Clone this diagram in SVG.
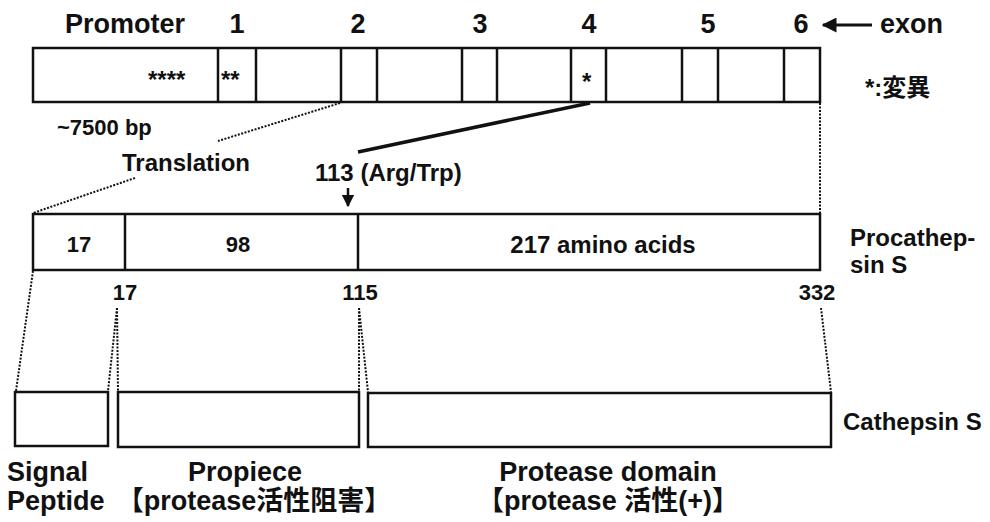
<svg xmlns="http://www.w3.org/2000/svg" width="990" height="522" viewBox="0 0 990 522">
<defs>
<style>
text{font-family:"Liberation Sans","Noto Sans CJK JP",Arial,sans-serif;font-weight:bold;fill:#111}
.box{fill:#fff;stroke:#111;stroke-width:2.5}
.div{stroke:#111;stroke-width:2.5}
.dot{stroke:#111;stroke-width:2;stroke-dasharray:2 1.5;fill:none}
.l{font-size:27px}
.m{font-size:24px}
.s{font-size:22px}
.a{font-size:24px}
</style>
<marker id="ah" viewBox="0 0 10 10" refX="9" refY="5" markerWidth="5" markerHeight="5" orient="auto"><path d="M0,0 L10,5 L0,10 z" fill="#111"/></marker>
</defs>
<rect width="990" height="522" fill="#fff"/>

<g id="gene">
<rect class="box" x="33" y="48" width="787" height="54"/>
<path class="div" d="M218,48V102M256,48V102M341,48V102M377,48V102M462,48V102M497,48V102M571,48V102M606,48V102M682,48V102M718,48V102M784,48V102"/>
<text class="a" x="148" y="88">****</text>
<text class="a" x="221" y="88">**</text>
<text class="a" x="582" y="90">*</text>
</g>

<g id="gene-labels">
<text class="l" x="65" y="33">Promoter</text>
<text class="l" x="237" y="33" text-anchor="middle">1</text>
<text class="l" x="358" y="33" text-anchor="middle">2</text>
<text class="l" x="480" y="33" text-anchor="middle">3</text>
<text class="l" x="589" y="33" text-anchor="middle">4</text>
<text class="l" x="708" y="33" text-anchor="middle">5</text>
<text class="l" x="801" y="33" text-anchor="middle">6</text>
<text class="l" x="880" y="33">exon</text>
<text class="m" x="865" y="96">*:変異</text>
<text class="s" x="57" y="135">~7500 bp</text>
<text class="m" x="122" y="171">Translation</text>
<text class="m" x="315" y="181">113 (Arg/Trp)</text>
</g>

<g id="procathepsin">
<rect class="box" x="33" y="214" width="787" height="56"/>
<path class="div" d="M125,214V270M358,214V270"/>
<text class="s" x="79" y="252" text-anchor="middle">17</text>
<text class="s" x="238" y="252" text-anchor="middle">98</text>
<text class="m" x="603" y="253" text-anchor="middle">217 amino acids</text>
<text class="m" x="850" y="246">Procathep-</text>
<text class="m" x="850" y="273">sin S</text>
<text class="s" x="125" y="300" text-anchor="middle">17</text>
<text class="s" x="360" y="300" text-anchor="middle">115</text>
<text class="s" x="817" y="300" text-anchor="middle">332</text>
</g>

<g id="cathepsin">
<rect class="box" x="15" y="392" width="93" height="54"/>
<rect class="box" x="118" y="392" width="241" height="55"/>
<rect class="box" x="368" y="393" width="463" height="54"/>
<text class="m" x="843" y="430">Cathepsin S</text>
<text class="l" x="7" y="481">Signal</text>
<text class="l" x="7" y="510">Peptide</text>
<text class="l" x="245" y="481" text-anchor="middle">Propiece</text>
<text class="l" x="254" y="510" text-anchor="middle">【protease活性阻害】</text>
<text class="l" x="608" y="481" text-anchor="middle">Protease domain</text>
<text class="l" x="608" y="510" text-anchor="middle">【protease 活性(+)】</text>
</g>

<g id="connectors">
<line x1="872" y1="25" x2="823" y2="25" stroke="#111" stroke-width="3" marker-end="url(#ah)"/>
<line class="dot" x1="340" y1="103" x2="218" y2="141"/>
<line class="dot" x1="135" y1="178" x2="33" y2="213"/>
<line x1="590" y1="103" x2="358" y2="152" stroke="#111" stroke-width="3.5"/>
<line x1="348" y1="188" x2="348" y2="206" stroke="#111" stroke-width="2.5" marker-end="url(#ah)"/>
<line class="dot" x1="820" y1="103" x2="820" y2="214"/>
<line class="dot" x1="33" y1="271" x2="16" y2="391"/>
<line class="dot" x1="117" y1="308" x2="108" y2="391"/>
<line class="dot" x1="117" y1="308" x2="118" y2="391"/>
<line class="dot" x1="359" y1="308" x2="359" y2="391"/>
<line class="dot" x1="359" y1="308" x2="368" y2="392"/>
<line class="dot" x1="821" y1="308" x2="831" y2="392"/>
</g>
</svg>
